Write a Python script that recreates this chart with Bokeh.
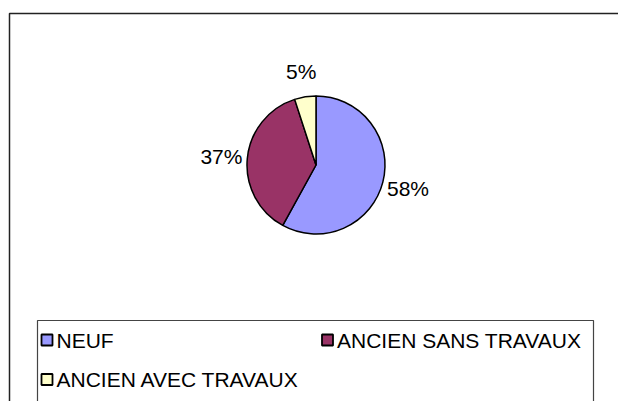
import numpy as np
from bokeh.plotting import figure
from bokeh.models import Range1d, ColumnDataSource
from bokeh.core.properties import value
from bokeh.embed import file_html
from bokeh.resources import INLINE

# Data
categories = ["NEUF", "ANCIEN SANS TRAVAUX", "ANCIEN AVEC TRAVAUX"]
shares = [58, 37, 5]
colors = ["#9999FF", "#993366", "#FFFFCC"]

W, H = 618, 401
p = figure(width=W, height=H, output_backend="svg", toolbar_location=None,
           x_range=Range1d(0, W), y_range=Range1d(0, H),
           min_border=0, outline_line_color=None)
p.axis.visible = False
p.grid.visible = False
p.background_fill_color = "white"
p.border_fill_color = "white"

# outer chart frame (right/bottom edges fall outside the window)
p.quad(left=[9], right=[W + 20], bottom=[-20], top=[388],
       fill_color=None, line_color="#222222", line_width=1.5)

# pie
cx, cy, r = 315.5, 236.5, 69
vals = np.array(shares, dtype=float)
frac = vals / vals.sum()
cum = np.concatenate([[0], np.cumsum(frac)])
start = np.pi / 2 - 2 * np.pi * cum[:-1]
end = np.pi / 2 - 2 * np.pi * cum[1:]
src = ColumnDataSource(dict(start=start, end=end, color=colors))
p.wedge(x=cx, y=cy, radius=r, start_angle="start", end_angle="end",
        direction="clock", fill_color="color", line_color="black",
        line_width=1.5, source=src)

# percentage labels
mid = np.pi / 2 - 2 * np.pi * (cum[:-1] + frac / 2)
lr = 95
lab = ColumnDataSource(dict(x=cx + lr * np.cos(mid), y=cy + lr * np.sin(mid),
                            t=[f"{v}%" for v in shares]))
p.text(x="x", y="y", text="t", source=lab, text_align="center",
       text_baseline="middle", text_font=value("Liberation Sans"),
       text_font_size="21px", text_color="black")

# legend box
p.quad(left=[37], right=[593], bottom=[-20], top=[81],
       fill_color=None, line_color="#444444", line_width=1.2)
lx = [46.5, 327, 46.5]
ly = [61.5, 61.5, 22]
p.rect(x=lx, y=ly, width=11, height=11, fill_color=colors,
       line_color="black", line_width=1.8)
p.text(x=[v + 9.5 for v in lx], y=ly, text=categories, text_align="left",
       text_baseline="middle", text_font=value("Liberation Sans"),
       text_font_size="21px", text_color="black")

open("out.html", "w").write(file_html(p, INLINE))
